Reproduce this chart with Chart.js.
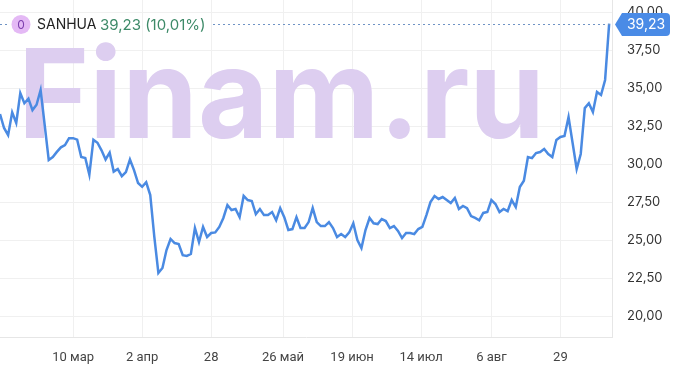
<!DOCTYPE html>
<html>
<head>
<meta charset="utf-8">
<script src="https://cdn.jsdelivr.net/npm/chart.js@4"></script>
<style>
  html, body { margin: 0; padding: 0; background: #fff; }
  #wrap { width: 674px; height: 370px; }
</style>
</head>
<body>
<div id="wrap"><canvas id="chart" width="674" height="370"></canvas></div>
<script>
// daily closes (one point per trading day)
const prices = [
  33.29, 32.37, 31.9, 33.4, 32.7, 34.67, 34.0, 34.3, 33.55, 33.9,
  34.87, 32.57, 30.26, 30.46, 30.8, 31.1, 31.25, 31.7, 31.7, 31.6,
  30.46, 30.4, 29.3, 31.6, 31.4, 30.9, 30.3, 30.75, 29.5,
  29.67, 29.2, 29.47, 30.3, 29.6, 28.75, 28.5, 28.8, 27.96, 25.2,
  22.83, 23.16, 24.34, 25.07, 24.8, 24.74, 24.0, 23.95, 24.08, 25.79,
  24.87, 25.86, 25.2, 25.46,
  25.5, 25.86, 26.45, 27.3, 26.97, 27.04, 26.5, 27.9, 27.63, 27.57,
  26.7, 27.04, 26.64, 26.64, 26.84, 26.3, 27.1, 26.5, 25.66, 25.72,
  26.5, 25.79, 25.79, 26.18, 27.1, 26.18, 25.92, 25.92, 26.18, 25.79,
  25.2, 25.39, 25.2, 25.5, 26.1, 25.0, 24.47, 25.66, 26.45, 26.1,
  26.05, 26.38, 26.25, 25.79, 25.92, 25.6, 25.13, 25.46, 25.46,
  25.39, 25.72, 25.86, 26.64, 27.5, 27.9, 27.7, 27.83, 27.63, 27.43,
  27.76, 27.04, 27.24, 27.1, 26.58, 26.45, 26.3, 26.78, 26.84, 27.63,
  27.37, 26.84, 27.04, 26.9, 27.63, 27.17, 28.49, 28.9,
  30.46, 30.39, 30.72, 30.79, 30.99, 30.66, 30.46, 31.58, 31.78, 31.84,
  33.09, 31.38, 29.67, 30.66, 33.68, 34.0, 33.42, 34.74, 34.54, 35.53,
  39.23
];
const days = prices.map((_, i) => i);

const tickIdx = [18, 35, 52, 69.7, 86.7, 103.7, 121, 138];
const tickLabels = ['10 мар', '2 апр', '28', '26 май', '19 июн', '14 июл', '6 авг', '29'];
const yTicks = [20, 22.5, 25, 27.5, 30, 32.5, 35, 37.5, 40];

const ticker = 'SANHUA';
const lastText = '39,23 (10,01%)';

const fmt = v => v.toFixed(2).replace('.', ',');

// big watermark behind the line
const watermark = {
  id: 'watermark',
  beforeDatasetsDraw(chart) {
    const ctx = chart.ctx;
    ctx.save();
    ctx.font = 'bold 124px Inter';
    const w = ctx.measureText('Finam.ru').width;
    ctx.translate(18, 138);
    ctx.scale(527 / w, 1);
    ctx.fillStyle = 'rgb(221, 206, 240)';
    ctx.textBaseline = 'alphabetic';
    ctx.fillText('Finam.ru', 0, 0);
    ctx.restore();
  }
};

// header, last price line and price tag
const overlay = {
  id: 'overlay',
  afterDraw(chart) {
    const ctx = chart.ctx;
    const area = chart.chartArea;
    const y = chart.scales.y;
    const last = prices[prices.length - 1];
    const py = Math.round(y.getPixelForValue(last)) + 0.5;

    ctx.save();
    // dotted line at last price
    ctx.strokeStyle = '#6f93c4';
    ctx.lineWidth = 1;
    ctx.setLineDash([2, 3]);
    ctx.beginPath();
    ctx.moveTo(0, py); ctx.lineTo(9, py);
    ctx.moveTo(213, py); ctx.lineTo(area.right, py);
    ctx.stroke();
    ctx.setLineDash([]);

    // badge
    ctx.fillStyle = '#e4b9f5';
    ctx.beginPath();
    ctx.arc(21, py, 9.5, 0, Math.PI * 2);
    ctx.fill();
    ctx.fillStyle = '#7d3fae';
    ctx.font = '12px Inter';
    ctx.textAlign = 'center';
    ctx.textBaseline = 'middle';
    ctx.fillText('0', 21, py + 0.5);

    // name + value
    ctx.textAlign = 'left';
    ctx.font = '14px Inter';
    ctx.fillStyle = '#222';
    ctx.fillText(ticker, 37, py + 0.5);
    ctx.font = '15px Inter';
    ctx.fillStyle = '#3d8a68';
    ctx.fillText(lastText, 100, py + 0.5);

    // price tag on axis
    const x0 = area.right + 3, x1 = 670, h = 23, r = 4;
    const top = py - h / 2, bot = py + h / 2;
    ctx.fillStyle = '#4a8be6';
    ctx.beginPath();
    ctx.moveTo(x0, py);
    ctx.lineTo(x0 + 7, top);
    ctx.lineTo(x1 - r, top);
    ctx.quadraticCurveTo(x1, top, x1, top + r);
    ctx.lineTo(x1, bot - r);
    ctx.quadraticCurveTo(x1, bot, x1 - r, bot);
    ctx.lineTo(x0 + 7, bot);
    ctx.closePath();
    ctx.fill();
    ctx.fillStyle = '#fff';
    ctx.textAlign = 'center';
    ctx.font = '14px Inter';
    ctx.fillText(fmt(last), (x0 + 7 + x1) / 2, py + 0.5);
    ctx.restore();
  }
};

new Chart(document.getElementById('chart'), {
  type: 'line',
  data: {
    labels: days,
    datasets: [{
      data: days.map(i => ({ x: i, y: prices[i] })),
      borderColor: '#4a8ae2',
      borderWidth: 2.5,
      pointRadius: 0,
      tension: 0,
      fill: false
    }]
  },
  options: {
    responsive: false,
    animation: false,
    devicePixelRatio: 1,
    layout: { padding: 0 },
    plugins: { legend: { display: false }, tooltip: { enabled: false } },
    scales: {
      x: {
        type: 'linear',
        min: 0,
        max: 150.7,
        afterBuildTicks: s => { s.ticks = tickIdx.map(v => ({ value: v })); },
        afterFit: s => { s.height = 33; s.paddingLeft = 0; s.paddingRight = 0; },
        grid: { color: '#f0f0f0', drawTicks: false },
        border: { color: '#e6e6e6' },
        ticks: {
          autoSkip: false,
          maxRotation: 0,
          padding: 13,
          color: '#444',
          font: { family: 'Roboto', size: 13 },
          callback: v => tickLabels[tickIdx.indexOf(v)]
        }
      },
      y: {
        position: 'right',
        min: 18.62,
        max: 40.79,
        afterBuildTicks: s => { s.ticks = yTicks.map(v => ({ value: v })); },
        afterFit: s => { s.width = 62; s.paddingTop = 0; s.paddingBottom = 0; },
        grid: { color: '#f0f0f0', drawTicks: false },
        border: { color: '#e6e6e6' },
        ticks: {
          padding: 15,
          color: '#333',
          font: { family: 'Inter', size: 13 },
          callback: v => fmt(v)
        }
      }
    }
  },
  plugins: [watermark, overlay]
});
</script>
</body>
</html>
